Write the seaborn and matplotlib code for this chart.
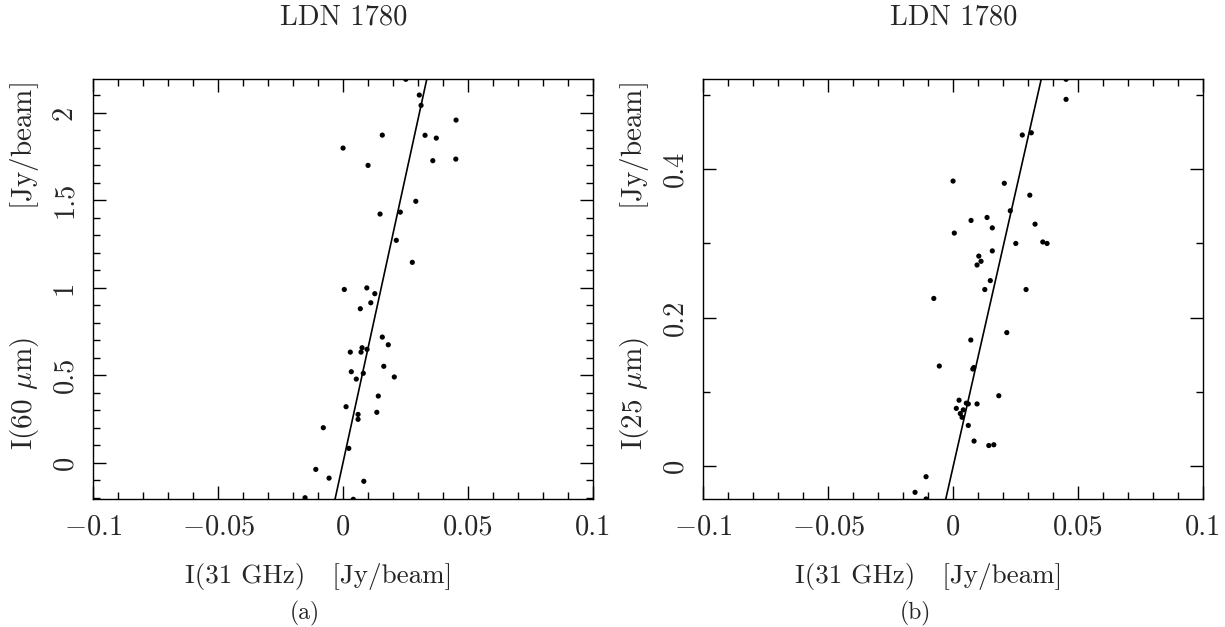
import numpy as np
import pandas as pd
import matplotlib
matplotlib.use('Agg')
import matplotlib.pyplot as plt
import seaborn as sns
from matplotlib.ticker import MultipleLocator

# (a) I(60 um) against I(31 GHz), Jy/beam
x60 = [0.0250, 0.0304, 0.0311, 0.0451, 0.0156, 0.0327, 0.0372, -0.0001, 0.0099, 0.0358,
       0.0450, 0.0290, 0.0147, 0.0228, 0.0212, 0.0276, 0.0004, 0.0094, 0.0126, 0.0110,
       0.0068, 0.0156, 0.0180, 0.0075, 0.0028, 0.0071, 0.0095, 0.0162, 0.0032, 0.0080,
       0.0052, 0.0204, 0.0140, 0.0011, 0.0059, 0.0059, 0.0134, -0.0080, 0.0022, -0.0110,
       -0.0057, 0.0082, -0.0153, 0.0040]
y60 = [2.190, 2.100, 2.041, 1.957, 1.871, 1.870, 1.854, 1.797, 1.698, 1.725,
       1.734, 1.493, 1.420, 1.431, 1.270, 1.144, 0.989, 0.998, 0.965, 0.913,
       0.879, 0.717, 0.673, 0.656, 0.631, 0.631, 0.647, 0.550, 0.519, 0.510,
       0.477, 0.489, 0.380, 0.319, 0.275, 0.247, 0.287, 0.199, 0.081, -0.039,
       -0.089, -0.107, -0.201, -0.210]

# (b) I(25 um) against I(31 GHz), Jy/beam
x25 = [0.0451, 0.0451, 0.0276, 0.0312, -0.0001, 0.0204, 0.0306, 0.0228, 0.0135, 0.0071,
       0.0327, 0.0156, 0.0004, 0.0250, 0.0358, 0.0375, 0.0156, 0.0102, 0.0111, 0.0095,
       0.0148, 0.0126, 0.0291, -0.0078, 0.0214, 0.0070, -0.0056, 0.0082, 0.0078, 0.0182,
       0.0023, 0.0012, 0.0052, 0.0060, 0.0095, 0.0040, 0.0028, 0.0035, 0.0060, 0.0083,
       0.0142, 0.0162, -0.0109, -0.0153, -0.0109]
y25 = [0.521, 0.494, 0.446, 0.449, 0.384, 0.381, 0.365, 0.344, 0.335, 0.331,
       0.326, 0.321, 0.314, 0.300, 0.302, 0.300, 0.290, 0.283, 0.276, 0.271,
       0.250, 0.238, 0.238, 0.226, 0.180, 0.170, 0.135, 0.133, 0.131, 0.095,
       0.089, 0.078, 0.085, 0.084, 0.084, 0.076, 0.071, 0.066, 0.055, 0.034,
       0.028, 0.029, -0.014, -0.035, -0.044]

# linear fits (slope, intercept)
fit60 = (65.4, 0.007)
fit25 = (14.8, 0.0006)

xticks = [-0.1, -0.05, 0, 0.05, 0.1]
xtick_labels = [r'$-$0.1', r'$-$0.05', '0', '0.05', '0.1']
yticks60 = [0, 0.5, 1, 1.5, 2]
ytick60_labels = ['0', '0.5', '1', '1.5', '2']
yticks25 = [0, 0.2, 0.4]
ytick25_labels = ['0', '0.2', '0.4']

sns.set_theme(style='ticks')
plt.rcParams['font.family'] = ['cmr10', 'DejaVu Serif']
plt.rcParams['mathtext.fontset'] = 'cm'
plt.rcParams['axes.unicode_minus'] = False

fig = plt.figure(figsize=(12.25, 6.27), dpi=100)
W, H = 1225, 627
ax_a = fig.add_axes([93.3 / W, 1 - 499.3 / H, 500 / W, 420 / H])
ax_b = fig.add_axes([703.3 / W, 1 - 499.3 / H, 500 / W, 420 / H])

gap = ' ' * 13
panels = [
    (ax_a, x60, y60, fit60, (-0.21, 2.19), yticks60, ytick60_labels, 0.1,
     r'I(60 $\mu$m)' + gap + '[Jy/beam]'),
    (ax_b, x25, y25, fit25, (-0.0444, 0.521), yticks25, ytick25_labels, 0.1,
     r'I(25 $\mu$m)' + gap + '[Jy/beam]'),
]

for ax, xs, ys, fit, ylim, yt, ytl, ymin, ylab in panels:
    df = pd.DataFrame({'x': xs, 'y': ys})
    sns.scatterplot(data=df, x='x', y='y', ax=ax, color='black', s=14,
                    edgecolor='none', linewidth=0)
    lx = np.array([-0.1, 0.1])
    sns.lineplot(x=lx, y=fit[0] * lx + fit[1], ax=ax, color='black', lw=1.2)

    ax.set_xlim(-0.1, 0.1)
    ax.set_ylim(*ylim)
    ax.set_xticks(xticks)
    ax.set_xticklabels(xtick_labels, fontsize=20.5)
    ax.set_yticks(yt)
    ax.set_yticklabels(ytl, fontsize=20.5, rotation=90, va='center')
    ax.xaxis.set_minor_locator(MultipleLocator(0.01))
    ax.yaxis.set_minor_locator(MultipleLocator(ymin))
    ax.tick_params(which='both', direction='in', top=True, right=True,
                   color='black', width=1)
    ax.tick_params(which='major', length=9.5)
    ax.tick_params(which='minor', length=5)
    ax.tick_params(axis='x', pad=11)
    ax.tick_params(axis='y', pad=11)
    for sp in ax.spines.values():
        sp.set_color('black')
        sp.set_linewidth(1)

    ax.set_xlabel('I(31 GHz)   [Jy/beam]', fontsize=19.5)
    ax.xaxis.label.set_va('center')
    ax.xaxis.set_label_coords(0.45, -0.185)
    ax.set_ylabel(ylab, fontsize=21)
    ax.yaxis.label.set_va('center')
    ax.yaxis.set_label_coords(-0.137, 0.555)
    ax.text(0.5, 1 + (79.3 - 17) / 420, 'LDN 1780', transform=ax.transAxes,
            ha='center', va='center', fontsize=20.5)

fig.text(305 / W, 1 - 613 / H, '(a)', ha='center', va='center', fontsize=17)
fig.text(915 / W, 1 - 613 / H, '(b)', ha='center', va='center', fontsize=17)

fig.savefig('out.png', dpi=100)
